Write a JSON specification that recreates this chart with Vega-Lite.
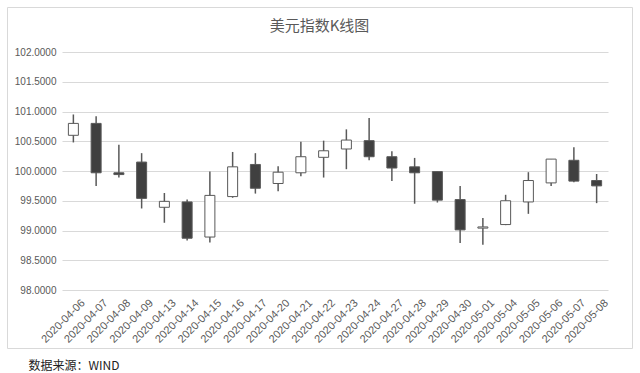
{
  "$schema": "https://vega.github.io/schema/vega-lite/v6.json",
  "width": 625,
  "height": 341,
  "autosize": {"type": "none"},
  "padding": {"left": 7, "top": 7, "right": 8, "bottom": 25},
  "background": "#ffffff",
  "config": {"view": {"stroke": "#d9d9d9", "strokeWidth": 1}, "font": "Noto Sans CJK SC"},
  "title": {
    "text": "美元指数K线图",
    "fontSize": 15,
    "fontWeight": "normal",
    "color": "#595959",
    "font": "Noto Sans CJK SC",
    "offset": 0,
    "dy": 27
  },
  "data": {
    "values": [
      {"date": "2020-04-06", "open": 100.60, "close": 100.80, "high": 100.95, "low": 100.48},
      {"date": "2020-04-07", "open": 100.80, "close": 99.97, "high": 100.92, "low": 99.75},
      {"date": "2020-04-08", "open": 99.97, "close": 99.94, "high": 100.44, "low": 99.89},
      {"date": "2020-04-09", "open": 100.15, "close": 99.54, "high": 100.30, "low": 99.37},
      {"date": "2020-04-13", "open": 99.39, "close": 99.49, "high": 99.63, "low": 99.13},
      {"date": "2020-04-14", "open": 99.48, "close": 98.87, "high": 99.52, "low": 98.83},
      {"date": "2020-04-15", "open": 98.89, "close": 99.59, "high": 99.99, "low": 98.80},
      {"date": "2020-04-16", "open": 99.57, "close": 100.07, "high": 100.32, "low": 99.55},
      {"date": "2020-04-17", "open": 100.11, "close": 99.71, "high": 100.30, "low": 99.62},
      {"date": "2020-04-20", "open": 99.79, "close": 99.98, "high": 100.08, "low": 99.66},
      {"date": "2020-04-21", "open": 99.97, "close": 100.24, "high": 100.49, "low": 99.91},
      {"date": "2020-04-22", "open": 100.23, "close": 100.34, "high": 100.51, "low": 99.89},
      {"date": "2020-04-23", "open": 100.37, "close": 100.52, "high": 100.70, "low": 100.03},
      {"date": "2020-04-24", "open": 100.51, "close": 100.24, "high": 100.89, "low": 100.18},
      {"date": "2020-04-27", "open": 100.24, "close": 100.05, "high": 100.33, "low": 99.83},
      {"date": "2020-04-28", "open": 100.07, "close": 99.97, "high": 100.22, "low": 99.45},
      {"date": "2020-04-29", "open": 99.99, "close": 99.51, "high": 99.99, "low": 99.47},
      {"date": "2020-04-30", "open": 99.52, "close": 99.01, "high": 99.75, "low": 98.79},
      {"date": "2020-05-01", "open": 99.04, "close": 99.06, "high": 99.21, "low": 98.76},
      {"date": "2020-05-04", "open": 99.10, "close": 99.50, "high": 99.60, "low": 99.09},
      {"date": "2020-05-05", "open": 99.48, "close": 99.84, "high": 99.98, "low": 99.28},
      {"date": "2020-05-06", "open": 99.80, "close": 100.20, "high": 100.20, "low": 99.75},
      {"date": "2020-05-07", "open": 100.18, "close": 99.83, "high": 100.40, "low": 99.81},
      {"date": "2020-05-08", "open": 99.84, "close": 99.75, "high": 99.95, "low": 99.46}
    ]
  },
  "encoding": {
    "x": {
      "field": "date",
      "type": "ordinal",
      "scale": {"paddingInner": 0, "paddingOuter": 0, "range": [55, 601]},
      "axis": {
        "offset": -58,
        "title": "数据来源：WIND",
        "titleFont": "Noto Sans CJK SC",
        "titleFontSize": 12,
        "titleFontWeight": "normal",
        "titleColor": "#222222",
        "titleAnchor": "start",
        "titleAlign": "left",
        "titleBaseline": "middle",
        "titleX": 21,
        "titleY": 75,
        "labelAngle": -45,
        "labelAlign": "right",
        "labelBaseline": "middle",
        "labelFontSize": 11,
        "labelColor": "#595959",
        "labelFont": "Liberation Sans",
        "labelPadding": 11,
        "labelOffset": 10,
        "domain": false,
        "ticks": false,
        "grid": false
      }
    },
    "y": {
      "type": "quantitative",
      "scale": {"domain": [98, 102], "nice": false, "zero": false, "range": [283, 45]},
      "axis": {
        "offset": -55,
        "title": null,
        "format": ".4f",
        "values": [98, 98.5, 99, 99.5, 100, 100.5, 101, 101.5, 102],
        "labelFontSize": 10,
        "labelColor": "#595959",
        "labelFont": "Liberation Sans",
        "labelPadding": 6,
        "domain": false,
        "ticks": false,
        "grid": true,
        "gridColor": "#d9d9d9",
        "gridWidth": 1
      }
    }
  },
  "layer": [
    {
      "mark": {"type": "rule", "color": "#595959", "strokeWidth": 1.5},
      "encoding": {
        "y": {"field": "low", "type": "quantitative"},
        "y2": {"field": "high"}
      }
    },
    {
      "mark": {"type": "bar", "size": 10, "stroke": "#595959", "strokeWidth": 1},
      "encoding": {
        "y": {"field": "open", "type": "quantitative"},
        "y2": {"field": "close"},
        "fill": {
          "condition": {"test": "datum.open < datum.close", "value": "#ffffff"},
          "value": "#404040"
        }
      }
    }
  ]
}
